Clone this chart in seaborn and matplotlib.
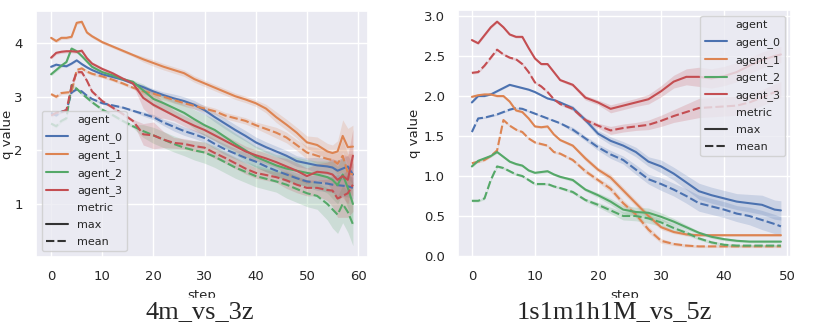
import matplotlib
matplotlib.use('Agg')
import matplotlib.pyplot as plt
from matplotlib.patches import Rectangle
import pandas as pd
import seaborn as sns

# ---- 4m_vs_3z (left) ----
left_steps = [0, 1, 2, 3, 4, 5, 6, 7, 8, 10, 12, 14, 16, 18, 20, 22, 24, 26, 28, 30, 32, 34, 36, 38,
              40, 42, 44, 46, 48, 50, 52, 54, 55, 56, 57, 58, 59]
left_a0_max = [3.56, 3.60, 3.58, 3.57, 3.62, 3.68, 3.61, 3.55, 3.50, 3.42, 3.37, 3.32, 3.25, 3.18, 3.10, 3.03,
               2.97, 2.92, 2.85, 2.75, 2.62, 2.50, 2.38, 2.27, 2.15, 2.06, 1.98, 1.90, 1.80, 1.76, 1.72, 1.70,
               1.68, 1.62, 1.66, 1.70, 1.55]
left_a0_mean = [2.70, 2.65, 2.72, 2.75, 3.08, 3.14, 3.10, 3.02, 2.96, 2.88, 2.84, 2.80, 2.74, 2.68, 2.62, 2.52,
                2.44, 2.36, 2.30, 2.23, 2.12, 2.02, 1.94, 1.86, 1.79, 1.70, 1.62, 1.55, 1.48, 1.42, 1.40, 1.38,
                1.36, 1.35, 1.34, 1.33, 1.30]
left_a1_max = [4.10, 4.04, 4.10, 4.10, 4.12, 4.38, 4.40, 4.20, 4.13, 4.02, 3.94, 3.86, 3.78, 3.70, 3.63, 3.56,
               3.50, 3.44, 3.33, 3.25, 3.17, 3.09, 3.01, 2.95, 2.88, 2.78, 2.62, 2.48, 2.33, 2.15, 2.10, 1.98,
               1.95, 1.98, 2.27, 2.06, 2.07]
left_a1_mean = [3.05, 3.00, 3.07, 3.08, 3.09, 3.50, 3.53, 3.47, 3.43, 3.38, 3.32, 3.25, 3.17, 3.10, 3.06, 3.00,
                2.94, 2.88, 2.83, 2.78, 2.73, 2.65, 2.60, 2.55, 2.47, 2.40, 2.33, 2.24, 2.10, 1.96, 1.90, 1.84,
                1.82, 1.75, 1.90, 1.58, 1.55]
left_a2_max = [3.42, 3.50, 3.58, 3.65, 3.90, 3.85, 3.76, 3.66, 3.56, 3.46, 3.40, 3.33, 3.28, 3.12, 2.96, 2.88,
               2.79, 2.70, 2.58, 2.47, 2.38, 2.25, 2.12, 2.00, 1.88, 1.80, 1.72, 1.66, 1.62, 1.58, 1.55, 1.50,
               1.45, 1.35, 1.55, 1.30, 1.00]
left_a2_mean = [2.50, 2.45, 2.55, 2.60, 3.22, 3.15, 3.06, 2.98, 2.90, 2.76, 2.66, 2.55, 2.45, 2.36, 2.28, 2.20,
                2.12, 2.05, 2.00, 1.96, 1.88, 1.78, 1.68, 1.60, 1.52, 1.47, 1.42, 1.36, 1.28, 1.20, 1.15, 1.00,
                0.90, 0.80, 1.00, 0.85, 0.62]
left_a3_max = [3.73, 3.82, 3.84, 3.85, 3.85, 3.84, 3.86, 3.72, 3.62, 3.52, 3.44, 3.34, 3.25, 2.98, 2.85, 2.75,
               2.65, 2.55, 2.46, 2.38, 2.28, 2.18, 2.08, 1.98, 1.91, 1.85, 1.78, 1.70, 1.62, 1.52, 1.60, 1.58,
               1.55, 1.45, 1.52, 1.45, 1.90]
left_a3_mean = [2.65, 2.70, 2.72, 2.75, 3.20, 3.46, 3.46, 3.30, 3.10, 2.92, 2.80, 2.68, 2.55, 2.30, 2.28, 2.20,
                2.14, 2.12, 2.08, 2.05, 1.95, 1.86, 1.76, 1.66, 1.58, 1.54, 1.50, 1.44, 1.36, 1.30, 1.30, 1.26,
                1.25, 1.10, 1.15, 1.20, 1.36]
# half width of the shaded band, per agent
left_a0_band = [0.02] * 13 + [0.04, 0.05, 0.06, 0.08, 0.08, 0.08, 0.08, 0.09, 0.10, 0.10, 0.10, 0.10, 0.10,
                              0.10, 0.10, 0.10, 0.10, 0.15, 0.15, 0.15, 0.20, 0.20, 0.20, 0.20]
left_a1_band = [0.03] * 13 + [0.05, 0.06, 0.06, 0.06, 0.06, 0.06, 0.06, 0.06, 0.06, 0.06, 0.06, 0.06, 0.08,
                              0.10, 0.10, 0.10, 0.12, 0.15, 0.15, 0.15, 0.20, 0.30, 0.35, 0.40]
left_a2_band = [0.03] * 13 + [0.12, 0.15, 0.15, 0.15, 0.15, 0.18, 0.20, 0.20, 0.20, 0.20, 0.20, 0.20, 0.20,
                              0.20, 0.25, 0.25, 0.25, 0.25, 0.30, 0.35, 0.35, 0.35, 0.38, 0.40]
left_a3_band = [0.03] * 13 + [0.20, 0.25, 0.15, 0.10, 0.10, 0.10, 0.10, 0.10, 0.10, 0.10, 0.10, 0.10, 0.10,
                              0.10, 0.15, 0.15, 0.15, 0.15, 0.20, 0.30, 0.35, 0.40, 0.45, 0.50]

# ---- 1s1m1h1M_vs_5z (right) ----
right_steps = [0, 1, 2, 3, 4, 5, 6, 7, 8, 9, 10, 11, 12, 13, 14, 16, 18, 20, 22, 24, 26, 28, 30, 32, 34, 36,
               38, 40, 42, 44, 46, 48, 49]
right_a0_max = [1.92, 2.00, 2.00, 2.02, 2.06, 2.10, 2.14, 2.12, 2.10, 2.08, 2.05, 2.01, 1.97, 1.95, 1.92, 1.85,
                1.70, 1.53, 1.44, 1.38, 1.30, 1.18, 1.12, 1.03, 0.92, 0.81, 0.76, 0.72, 0.68, 0.66, 0.64, 0.58,
                0.57]
right_a0_mean = [1.55, 1.72, 1.73, 1.75, 1.77, 1.80, 1.83, 1.85, 1.84, 1.81, 1.78, 1.75, 1.72, 1.69, 1.66, 1.58,
                 1.47, 1.36, 1.27, 1.20, 1.08, 0.96, 0.90, 0.83, 0.75, 0.66, 0.62, 0.58, 0.53, 0.50, 0.45, 0.40,
                 0.37]
right_a1_max = [1.99, 2.01, 2.02, 2.02, 2.00, 2.00, 1.93, 1.82, 1.80, 1.72, 1.62, 1.61, 1.62, 1.52, 1.45, 1.38,
                1.22, 1.08, 0.98, 0.82, 0.66, 0.50, 0.36, 0.30, 0.27, 0.26, 0.26, 0.26, 0.26, 0.26, 0.26, 0.26,
                0.26]
right_a1_mean = [1.16, 1.18, 1.20, 1.25, 1.32, 1.70, 1.63, 1.58, 1.55, 1.47, 1.42, 1.40, 1.38, 1.30, 1.28, 1.20,
                 1.06, 0.95, 0.84, 0.66, 0.52, 0.33, 0.19, 0.15, 0.13, 0.12, 0.12, 0.12, 0.12, 0.12, 0.12, 0.12,
                 0.12]
right_a2_max = [1.12, 1.19, 1.22, 1.25, 1.30, 1.24, 1.18, 1.15, 1.13, 1.07, 1.04, 1.05, 1.06, 1.02, 0.99, 0.95,
                0.83, 0.76, 0.68, 0.58, 0.55, 0.54, 0.49, 0.43, 0.36, 0.29, 0.24, 0.21, 0.19, 0.18, 0.18, 0.18,
                0.18]
right_a2_mean = [0.69, 0.69, 0.72, 0.95, 1.12, 1.10, 1.06, 1.02, 1.00, 0.95, 0.90, 0.90, 0.90, 0.87, 0.85, 0.80,
                 0.70, 0.64, 0.57, 0.50, 0.50, 0.47, 0.42, 0.35, 0.29, 0.22, 0.17, 0.14, 0.13, 0.13, 0.13, 0.13,
                 0.13]
right_a3_max = [2.70, 2.66, 2.76, 2.86, 2.93, 2.86, 2.77, 2.74, 2.74, 2.60, 2.47, 2.40, 2.40, 2.30, 2.20, 2.14,
                1.98, 1.92, 1.84, 1.88, 1.92, 1.96, 2.06, 2.18, 2.24, 2.24, 2.22, 2.25, 2.30, 2.38, 2.45, 2.50,
                2.52]
right_a3_mean = [2.29, 2.30, 2.38, 2.48, 2.58, 2.52, 2.48, 2.46, 2.40, 2.30, 2.17, 2.12, 2.05, 1.96, 1.90, 1.84,
                 1.70, 1.63, 1.57, 1.60, 1.62, 1.64, 1.69, 1.75, 1.80, 1.85, 1.86, 1.87, 1.88, 1.92, 1.98, 2.05,
                 2.08]
right_a0_band = [0.01] * 15 + [0.03, 0.03, 0.04, 0.05, 0.05, 0.06, 0.06, 0.08, 0.08, 0.09, 0.10, 0.10, 0.10,
                               0.10, 0.11, 0.12, 0.12, 0.12]
right_a1_band = [0.015] * 15 + [0.02, 0.03, 0.03, 0.04, 0.04, 0.04, 0.04, 0.03, 0.02, 0.02, 0.015, 0.015,
                                0.015, 0.015, 0.015, 0.015, 0.015, 0.015]
right_a2_band = [0.015] * 15 + [0.02, 0.02, 0.03, 0.04, 0.05, 0.06, 0.06, 0.05, 0.04, 0.03, 0.02, 0.02, 0.02,
                                0.015, 0.015, 0.015, 0.015, 0.015]
right_a3_band = [0.015] * 15 + [0.02, 0.03, 0.03, 0.05, 0.05, 0.05, 0.06, 0.07, 0.08, 0.10, 0.12, 0.12, 0.12,
                                0.12, 0.10, 0.10, 0.10, 0.10]

agents = ['agent_0', 'agent_1', 'agent_2', 'agent_3']
colors = dict(zip(agents, sns.color_palette('deep', 4)))

sns.set_theme(style='darkgrid', rc={'xtick.labelsize': 9.5, 'ytick.labelsize': 9.5,
                                    'axes.labelsize': 9.5, 'legend.fontsize': 8,
                                    'legend.labelspacing': 0.62})


def draw(ax, steps, max_lists, mean_lists, bands, legend_loc):
    frames = []
    for agent, mx, mn in zip(agents, max_lists, mean_lists):
        frames.append(pd.DataFrame({'step': steps, 'q value': mx, 'agent': agent, 'metric': 'max'}))
        frames.append(pd.DataFrame({'step': steps, 'q value': mn, 'agent': agent, 'metric': 'mean'}))
    df = pd.concat(frames, ignore_index=True)

    sns.lineplot(data=df, x='step', y='q value', hue='agent', style='metric', palette=colors,
                 errorbar=None, lw=1.5, ax=ax)

    # confidence bands
    for agent, band in zip(agents, bands):
        for metric in ['max', 'mean']:
            d = df[(df['agent'] == agent) & (df['metric'] == metric)]
            ax.fill_between(d['step'], d['q value'] - band, d['q value'] + band,
                            color=colors[agent], alpha=0.2, lw=0)
    sns.move_legend(ax, legend_loc)


fig = plt.figure(figsize=(8.3, 3.31), dpi=100)
ax1 = fig.add_axes([0.0434, 0.2236, 0.4, 0.743])
ax2 = fig.add_axes([0.5518, 0.2236, 0.4012, 0.746])

draw(ax1, left_steps, [left_a0_max, left_a1_max, left_a2_max, left_a3_max],
     [left_a0_mean, left_a1_mean, left_a2_mean, left_a3_mean],
     [left_a0_band, left_a1_band, left_a2_band, left_a3_band], 'lower left')
draw(ax2, right_steps, [right_a0_max, right_a1_max, right_a2_max, right_a3_max],
     [right_a0_mean, right_a1_mean, right_a2_mean, right_a3_mean],
     [right_a0_band, right_a1_band, right_a2_band, right_a3_band], 'upper right')

ax1.set_ylim(0.01, 4.6)
ax1.set_xlim(-2.95, 61.95)
ax1.set_yticks([1, 2, 3, 4])
ax2.set_ylim(-0.0125, 3.075)
ax2.set_xlim(-2.2, 50.6)
ax1.yaxis.set_label_coords(-0.066, 0.5)
ax2.yaxis.set_label_coords(-0.112, 0.5)

# the panels were cropped just under the axis label
fig.add_artist(Rectangle((0, 0), 1, 0.1, transform=fig.transFigure, color='white', zorder=5))

fig.text(0.241, 0.057, '4m_vs_3z', ha='center', va='center', fontsize=19,
         family='Liberation Serif', zorder=6)
fig.text(0.74, 0.057, '1s1m1h1M_vs_5z', ha='center', va='center', fontsize=19,
         family='Liberation Serif', zorder=6)

fig.savefig('out.png', dpi=100)
